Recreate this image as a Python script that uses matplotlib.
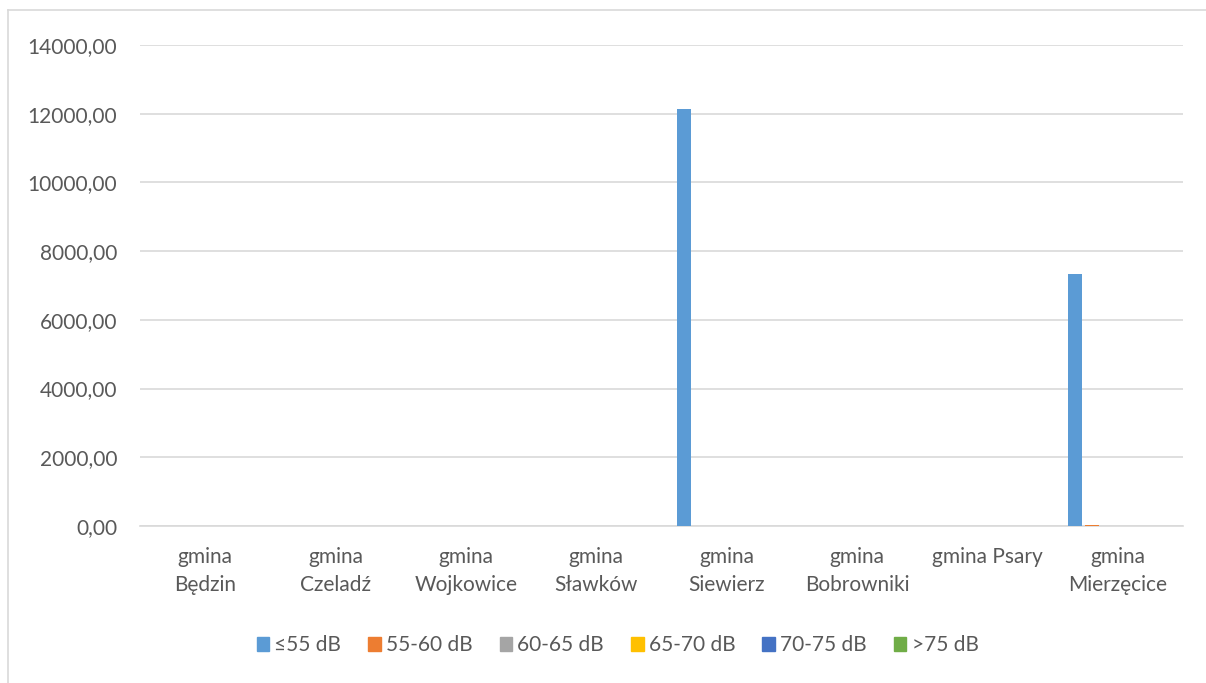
import numpy as np
import matplotlib.pyplot as plt
from matplotlib.ticker import FuncFormatter
from matplotlib.lines import Line2D

plt.rcParams['font.family'] = ['Lato', 'DejaVu Sans']

# gminas and noise classes
gminas = ['gmina\nBędzin', 'gmina\nCzeladź', 'gmina\nWojkowice', 'gmina\nSławków',
          'gmina\nSiewierz', 'gmina\nBobrowniki', 'gmina Psary', 'gmina\nMierzęcice']
classes = ['≤55 dB', '55-60 dB', '60-65 dB', '65-70 dB', '70-75 dB', '>75 dB']
colors = ['#5b9bd5', '#ed7d31', '#a5a5a5', '#ffc000', '#4472c4', '#70ad47']

le55 = [0, 0, 0, 0, 12140, 0, 0, 7330]
db55_60 = [0, 0, 0, 0, 0, 0, 0, 30]
db60_65 = [0, 0, 0, 0, 0, 0, 0, 0]
db65_70 = [0, 0, 0, 0, 0, 0, 0, 0]
db70_75 = [0, 0, 0, 0, 0, 0, 0, 0]
gt75 = [0, 0, 0, 0, 0, 0, 0, 0]
series = [le55, db55_60, db60_65, db65_70, db70_75, gt75]

fig = plt.figure(figsize=(12.06, 6.83), dpi=100)
ax = fig.add_axes([0.1161, 0.2299, 0.8648, 0.7042])

x = np.arange(len(gminas))
step, width = 0.13, 0.107
for i, (vals, name, col) in enumerate(zip(series, classes, colors)):
    ax.bar(x + (i - 2.5) * step, vals, width=width, color=col, label=name, zorder=3)

ax.set_xlim(-0.5, len(gminas) - 0.5)
ax.set_ylim(0, 14000)
ax.set_yticks(np.arange(0, 14001, 2000))
ax.yaxis.set_major_formatter(FuncFormatter(lambda v, p: f'{v:.2f}'.replace('.', ',')))
ax.grid(axis='y', color='#d9d9d9', linewidth=1.2, zorder=0)

for s in ['top', 'right', 'left']:
    ax.spines[s].set_visible(False)
ax.spines['bottom'].set_color('#d9d9d9')
ax.spines['bottom'].set_linewidth(1.2)

ax.set_xticks(x)
ax.set_xticklabels(gminas, va='top', linespacing=1.5)
ax.tick_params(axis='both', length=0, labelsize=15, labelcolor='#595959')
ax.tick_params(axis='x', pad=15)
ax.tick_params(axis='y', pad=16.5)

handles = [plt.Rectangle((0, 0), 1, 1, color=c) for c in colors]
fig.legend(handles, classes, loc='center', bbox_to_anchor=(0.512, 0.055), ncol=6,
           frameon=False, fontsize=15, handlelength=0.6, handleheight=0.6,
           handletextpad=0.25, columnspacing=1.3, labelcolor='#595959')

# chart frame
fig.add_artist(Line2D([8 / 1206, 8 / 1206], [0, 1 - 10 / 683], color='#d9d9d9', lw=1.2))
fig.add_artist(Line2D([8 / 1206, 1], [1 - 10 / 683, 1 - 10 / 683], color='#d9d9d9', lw=1.2))

fig.savefig('out.png', dpi=100)
